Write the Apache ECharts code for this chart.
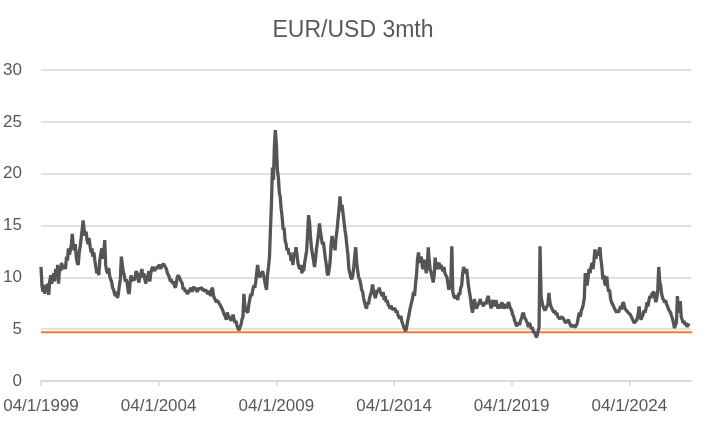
<!DOCTYPE html>
<html>
<head>
<meta charset="utf-8">
<script src="https://cdn.jsdelivr.net/npm/echarts@6/dist/echarts.min.js"></script>
<style>
html,body{margin:0;padding:0;background:#fff;}
#chart{width:706px;height:422px;}
</style>
</head>
<body>
<div id="chart"></div>
<script>
// Title and tick labels
const chartTitle = 'EUR/USD 3mth';
const labelYears = [1999, 2004, 2009, 2014, 2019, 2024];
const yTicks = [0, 5, 10, 15, 20, 25, 30];
const referenceLevel = 4.7;

// Semi-monthly readings (4th and 19th of each month), per year
const v1999 = [11.0, 9.2, 8.6, 9.3, 8.4, 9.2, 8.8, 9.4, 8.3, 9.6, 10.2, 9.4, 9.8, 10.4, 9.6, 10.8, 10.0, 11.2, 9.4, 11.0, 10.6, 11.4, 10.8, 11.0];
const v2000 = [11.2, 10.8, 12.0, 11.6, 12.8, 12.2, 12.6, 13.2, 14.2, 13.0, 12.6, 13.2, 12.0, 11.4, 11.2, 12.4, 13.0, 13.8, 14.6, 15.5, 14.6, 14.0, 14.4, 13.6];
const v2001 = [13.2, 13.8, 13.0, 12.4, 12.8, 12.0, 12.4, 11.6, 11.0, 10.4, 10.8, 10.2, 11.6, 12.2, 12.8, 11.8, 12.4, 13.6, 11.2, 10.6, 10.4, 10.9, 10.2, 9.8];
const v2002 = [9.6, 9.0, 8.8, 8.4, 8.2, 8.6, 8.0, 8.4, 9.2, 9.8, 12.0, 11.2, 10.6, 10.2, 9.6, 9.8, 9.4, 8.6, 8.4, 9.6, 10.2, 9.6, 10.0, 9.7];
const v2003 = [10.0, 10.6, 10.4, 9.8, 9.5, 10.2, 10.4, 10.8, 10.0, 10.4, 9.8, 9.4, 10.2, 10.0, 10.6, 9.6, 10.4, 10.8, 11.0, 10.8, 10.6, 11.0, 10.8, 11.0];
const v2004 = [11.0, 11.2, 10.8, 11.1, 11.0, 11.3, 11.4, 11.2, 10.8, 10.4, 10.2, 10.0, 9.6, 9.8, 9.4, 9.6, 9.2, 9.0, 9.4, 10.0, 10.2, 10.0, 9.8, 9.6];
const v2005 = [9.4, 8.8, 9.0, 8.6, 8.8, 8.4, 8.3, 8.6, 8.8, 9.0, 8.6, 8.9, 9.1, 8.8, 9.0, 8.6, 8.7, 8.9, 9.0, 8.8, 9.0, 8.7, 8.9, 8.6];
const v2006 = [8.8, 8.6, 8.4, 8.7, 8.5, 8.2, 8.8, 9.0, 8.2, 8.0, 7.9, 7.6, 7.8, 7.6, 7.7, 7.3, 7.2, 6.9, 6.8, 6.4, 6.2, 5.9, 6.6, 6.3];
const v2007 = [6.2, 6.0, 5.8, 6.1, 6.4, 6.0, 5.6, 5.8, 5.3, 5.4, 4.9, 5.2, 5.4, 5.9, 6.2, 8.4, 7.2, 6.8, 6.9, 6.6, 7.4, 7.9, 8.4, 8.2];
const v2008 = [8.8, 9.2, 9.0, 9.6, 10.4, 11.2, 10.4, 10.0, 10.1, 10.4, 10.6, 10.2, 9.8, 9.2, 8.8, 10.2, 11.0, 12.0, 14.6, 17.0, 20.6, 19.4, 22.6, 24.2];
const v2009 = [22.8, 20.4, 19.6, 18.2, 17.8, 16.6, 15.8, 14.6, 14.8, 13.6, 13.2, 12.6, 12.8, 12.2, 12.4, 11.6, 11.8, 11.2, 12.4, 12.0, 12.9, 12.2, 11.4, 11.0];
const v2010 = [10.8, 11.2, 10.4, 10.8, 10.6, 11.4, 12.0, 12.6, 14.2, 16.0, 15.2, 13.8, 12.8, 12.2, 11.6, 11.0, 11.8, 12.8, 13.4, 14.2, 15.2, 14.4, 13.8, 13.2];
const v2011 = [13.4, 12.6, 11.8, 11.2, 10.4, 10.2, 10.8, 11.6, 13.2, 14.0, 12.8, 13.4, 12.6, 13.8, 14.6, 15.6, 16.6, 17.8, 16.4, 17.0, 16.2, 15.4, 14.6, 14.0];
const v2012 = [13.0, 12.2, 10.8, 10.4, 10.0, 9.8, 10.2, 11.0, 12.0, 12.9, 11.4, 10.6, 10.0, 9.8, 9.4, 8.8, 8.6, 8.0, 7.6, 7.2, 7.0, 7.6, 7.4, 8.0];
const v2013 = [8.0, 8.6, 9.3, 8.8, 8.4, 8.0, 8.4, 8.8, 8.6, 9.0, 8.6, 8.4, 8.2, 8.6, 7.8, 8.2, 7.6, 7.8, 7.4, 7.2, 7.0, 7.3, 6.9, 7.0];
const v2014 = [6.8, 7.0, 6.6, 6.8, 6.4, 6.2, 6.0, 6.3, 5.8, 5.5, 5.2, 5.0, 4.8, 5.2, 5.8, 6.2, 6.8, 7.2, 7.6, 8.0, 8.6, 8.2, 9.4, 10.2];
const v2015 = [11.8, 12.4, 11.4, 11.8, 12.0, 11.0, 10.8, 11.7, 11.2, 10.4, 11.0, 12.9, 11.6, 10.8, 10.4, 10.0, 9.5, 10.2, 11.9, 11.0, 10.8, 11.2, 11.4, 10.8];
const v2016 = [11.2, 10.8, 10.6, 11.0, 10.4, 10.2, 10.0, 9.4, 8.8, 9.2, 9.6, 13.0, 8.6, 8.2, 8.0, 7.9, 8.2, 7.8, 8.5, 8.3, 9.0, 9.2, 10.4, 11.0];
const v2017 = [11.0, 10.4, 10.8, 10.0, 9.2, 8.6, 8.0, 7.2, 6.6, 7.0, 7.9, 7.4, 7.0, 6.9, 7.4, 7.6, 7.9, 7.4, 7.6, 7.2, 7.2, 7.6, 7.4, 7.9];
const v2018 = [8.2, 7.8, 7.4, 7.0, 7.4, 7.8, 7.6, 7.2, 7.8, 7.4, 7.0, 7.2, 7.4, 7.0, 7.6, 7.3, 7.0, 7.2, 7.4, 7.0, 7.4, 7.6, 7.2, 7.0];
const v2019 = [6.8, 6.4, 6.2, 5.8, 5.6, 5.3, 5.2, 5.6, 5.4, 5.8, 6.0, 6.4, 6.6, 6.2, 6.0, 5.8, 5.6, 5.2, 5.6, 5.4, 5.0, 5.2, 4.8, 4.9];
const v2020 = [4.6, 4.2, 4.4, 4.8, 5.2, 13.0, 8.2, 7.6, 7.2, 7.0, 6.8, 6.9, 7.2, 7.4, 8.5, 7.6, 7.2, 7.0, 6.8, 6.6, 6.8, 6.4, 6.6, 6.2];
const v2021 = [6.2, 6.0, 5.9, 6.2, 6.3, 6.0, 5.8, 5.6, 5.7, 5.5, 5.9, 5.6, 5.4, 5.2, 5.4, 5.3, 5.5, 5.2, 5.3, 5.6, 6.2, 6.6, 6.2, 6.8];
const v2022 = [7.0, 7.4, 8.0, 10.4, 9.6, 9.2, 10.0, 10.8, 10.4, 11.0, 11.4, 10.8, 11.6, 12.7, 11.8, 12.4, 12.1, 12.6, 12.9, 11.8, 11.0, 9.8, 10.2, 9.4];
const v2023 = [9.2, 10.1, 9.0, 8.6, 8.8, 7.9, 7.6, 7.4, 7.2, 7.0, 6.8, 6.6, 6.8, 6.6, 6.9, 7.2, 6.9, 7.4, 7.6, 7.2, 6.9, 7.0, 6.8, 6.6];
const v2024 = [6.6, 6.4, 6.3, 6.0, 5.8, 5.6, 5.5, 5.8, 6.0, 6.4, 7.2, 6.2, 5.9, 6.2, 6.4, 6.8, 6.6, 7.0, 7.6, 7.2, 7.8, 8.2, 8.0, 8.4];
const v2025 = [8.4, 8.6, 8.0, 7.6, 8.0, 8.6, 11.0, 9.6, 9.2, 8.4, 8.0, 7.8, 7.6, 7.8, 7.4, 7.2, 6.9, 7.0, 6.6, 6.3, 6.0, 5.6, 5.1, 5.4];
const v2026 = [5.6, 8.2, 6.6, 6.9, 7.7, 6.2, 5.9, 5.6, 5.8, 5.4, 5.6, 5.2, 5.5, 5.3];

const yearly = [
  [1999, v1999], [2000, v2000], [2001, v2001], [2002, v2002], [2003, v2003],
  [2004, v2004], [2005, v2005], [2006, v2006], [2007, v2007], [2008, v2008],
  [2009, v2009], [2010, v2010], [2011, v2011], [2012, v2012], [2013, v2013],
  [2014, v2014], [2015, v2015], [2016, v2016], [2017, v2017], [2018, v2018],
  [2019, v2019], [2020, v2020], [2021, v2021], [2022, v2022], [2023, v2023],
  [2024, v2024], [2025, v2025], [2026, v2026]
];

const seriesData = [];
yearly.forEach(([yr, arr]) => {
  arr.forEach((v, i) => {
    const m = Math.floor(i / 2);
    const d = (i % 2) ? 19 : 4;
    seriesData.push([Date.UTC(yr, m, d), v]);
  });
});

const axisStart = Date.UTC(1999, 0, 4);
const axisEnd = Date.UTC(2026, 7, 18);
const refEnd = Date.UTC(2026, 11, 20);
const labelDates = labelYears.map(y => Date.UTC(y, 0, 4));

function fmt(v) {
  const d = new Date(v);
  const dd = String(d.getUTCDate()).padStart(2, '0');
  return dd + '/' + (d.getUTCMonth() + 1) + '/' + d.getUTCFullYear();
}

const chart = echarts.init(document.getElementById('chart'), null, {renderer: 'canvas'});
chart.setOption({
  animation: false,
  backgroundColor: '#ffffff',
  title: {
    text: chartTitle,
    left: 'center',
    top: 14,
    textStyle: {fontFamily: 'Liberation Sans', fontSize: 23, fontWeight: 'normal', color: '#595959'}
  },
  grid: {left: 41, right: 15, top: 70, bottom: 41, containLabel: false},
  xAxis: {
    type: 'value',
    min: axisStart,
    max: axisEnd,
    axisLine: {show: true, lineStyle: {color: '#d9d9d9', width: 1.5}},
    axisTick: {show: true, customValues: labelDates, length: 5, inside: false, lineStyle: {color: '#d9d9d9', width: 1.5}},
    axisLabel: {
      customValues: labelDates,
      formatter: fmt,
      margin: 17,
      fontFamily: 'Liberation Sans',
      fontSize: 17,
      color: '#595959'
    },
    splitLine: {show: false}
  },
  yAxis: {
    type: 'value',
    min: yTicks[0],
    max: yTicks[yTicks.length - 1],
    interval: 5,
    axisLine: {show: false},
    axisTick: {show: false},
    axisLabel: {margin: 19, fontFamily: 'Liberation Sans', fontSize: 17, color: '#595959'},
    splitLine: {show: true, lineStyle: {color: '#d9d9d9', width: 1.5}}
  },
  series: [
    {
      name: 'EUR/USD 3mth',
      type: 'line',
      data: seriesData,
      showSymbol: false,
      symbol: 'none',
      lineStyle: {color: '#555555', width: 3.3},
      z: 3
    },
    {
      name: 'ref',
      type: 'line',
      data: [[axisStart, referenceLevel], [refEnd, referenceLevel]],
      showSymbol: false,
      symbol: 'none',
      clip: false,
      lineStyle: {color: '#ED7D31', width: 2},
      z: 2
    }
  ]
});
</script>
</body>
</html>
